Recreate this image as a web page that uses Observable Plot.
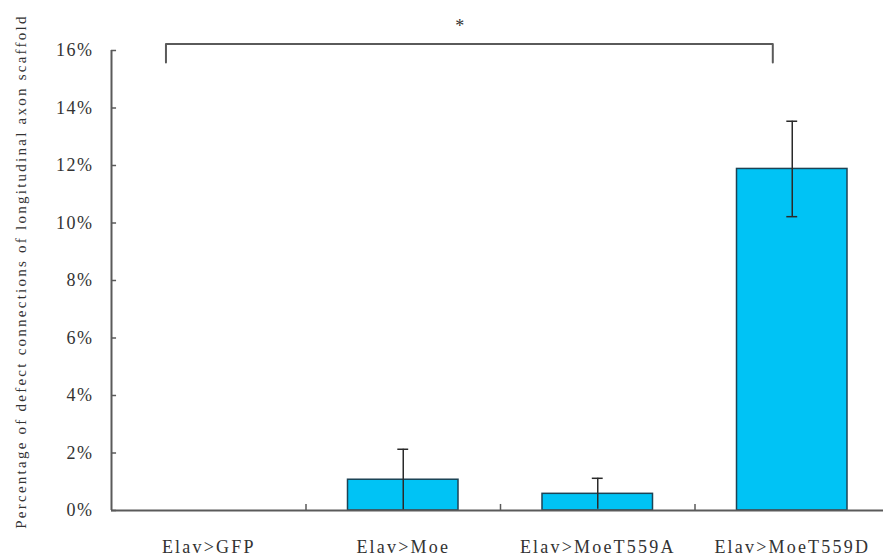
<!DOCTYPE html>
<html>
<head>
<meta charset="utf-8">
<script src="https://cdn.jsdelivr.net/npm/d3@7"></script>
<script src="https://cdn.jsdelivr.net/npm/@observablehq/plot@0.6"></script>
<style>
  html, body { margin: 0; padding: 0; background: #fff; }
  #chart svg { display: block; background: #fff; }
  g[aria-label="y-axis tick label"] text { letter-spacing: 1.5px; }
  g[aria-label="x-axis tick label"] text { letter-spacing: 2.2px; }
  .ylab text { letter-spacing: 2.25px; }
</style>
</head>
<body>
<div id="chart"></div>
<script>
// ---- data ----
const categories = ["Elav>GFP", "Elav>Moe", "Elav>MoeT559A", "Elav>MoeT559D"];
const values = [0, 1.07, 0.58, 11.88];      // percent
const errors = [0, 1.06, 0.54, 1.66];       // percent
const yTicks = [0, 2, 4, 6, 8, 10, 12, 14, 16];
const yLabel = "Percentage of defect connections of longitudinal axon scaffold";
// significance bracket (category units, percent units)
const bracketX = [0.28, 3.40];
const bracketY = [15.58, 16.23];
const starPos = [1.79, 16.83];

const data = categories.map((c, i) => ({c, i, v: values[i], e: errors[i]}));
const errData = data.filter(d => d.e > 0);
const capHalf = 0.028;
const ink = "#333";
const lineCol = "#5a5a5a";

const chart = Plot.plot({
  width: 883,
  height: 558,
  marginLeft: 111,
  marginRight: 0,
  marginTop: 50,
  marginBottom: 48,
  style: {fontFamily: "'Liberation Serif', 'Times New Roman', serif", color: ink, background: "#fff"},
  x: {type: "linear", domain: [0, 4], range: [111, 889]},
  y: {type: "linear", domain: [0, 16], range: [510, 50]},
  marks: [
    // bars
    Plot.rectY(data, {x1: "i", x2: d => d.i + 1, y1: 0, y2: "v", fill: "#00c3f5",
      stroke: "#1d4355", strokeWidth: 1.5, insetLeft: 42, insetRight: 42}),
    // error bars
    Plot.ruleX(errData, {x: d => d.i + 0.5, y1: d => Math.max(0, d.v - d.e), y2: d => d.v + d.e,
      stroke: "#2a2a2a", strokeWidth: 1.5}),
    Plot.ruleY(errData, {y: d => d.v + d.e, x1: d => d.i + 0.5 - capHalf, x2: d => d.i + 0.5 + capHalf,
      stroke: "#2a2a2a", strokeWidth: 1.5}),
    Plot.ruleY(errData.filter(d => d.v - d.e > 0.1), {y: d => d.v - d.e, x1: d => d.i + 0.5 - capHalf, x2: d => d.i + 0.5 + capHalf,
      stroke: "#2a2a2a", strokeWidth: 1.5}),
    // axis lines
    Plot.ruleY([0], {stroke: lineCol, strokeWidth: 2}),
    Plot.ruleX([0], {y1: 0, y2: 16, stroke: lineCol, strokeWidth: 2}),
    // y tick marks (inside)
    Plot.ruleY(yTicks, {y: d => d, x1: 0, x2: 0.026, stroke: lineCol, strokeWidth: 1.5}),
    // category boundary ticks
    Plot.ruleX(categories.slice(1).map((c, i) => i + 1), {x: d => d, y1: 0, y2: 0.21, stroke: lineCol, strokeWidth: 1.5}),
    // axes labels
    Plot.axisY({ticks: yTicks, tickFormat: d => d + "%", tickSize: 0, tickPadding: 18, fontSize: 18, label: null, fill: ink}),
    Plot.axisX({ticks: categories.map((c, i) => i + 0.5), tickFormat: d => categories[Math.floor(d)],
      tickSize: 0, tickPadding: 30, fontSize: 18, label: null, fill: ink}),
    // y title
    Plot.text([yLabel], {frameAnchor: "left", textAnchor: "middle", dx: -90, dy: -9, rotate: -90,
      fontSize: 15, fill: ink, className: "ylab"}),
    // significance bracket
    Plot.line([[bracketX[0], bracketY[0]], [bracketX[0], bracketY[1]], [bracketX[1], bracketY[1]], [bracketX[1], bracketY[0]]],
      {x: d => d[0], y: d => d[1], stroke: lineCol, strokeWidth: 2}),
    Plot.text(["*"], {x: () => starPos[0], y: () => starPos[1], fontSize: 18, fill: ink})
  ]
});
document.getElementById("chart").appendChild(chart);
</script>
</body>
</html>
